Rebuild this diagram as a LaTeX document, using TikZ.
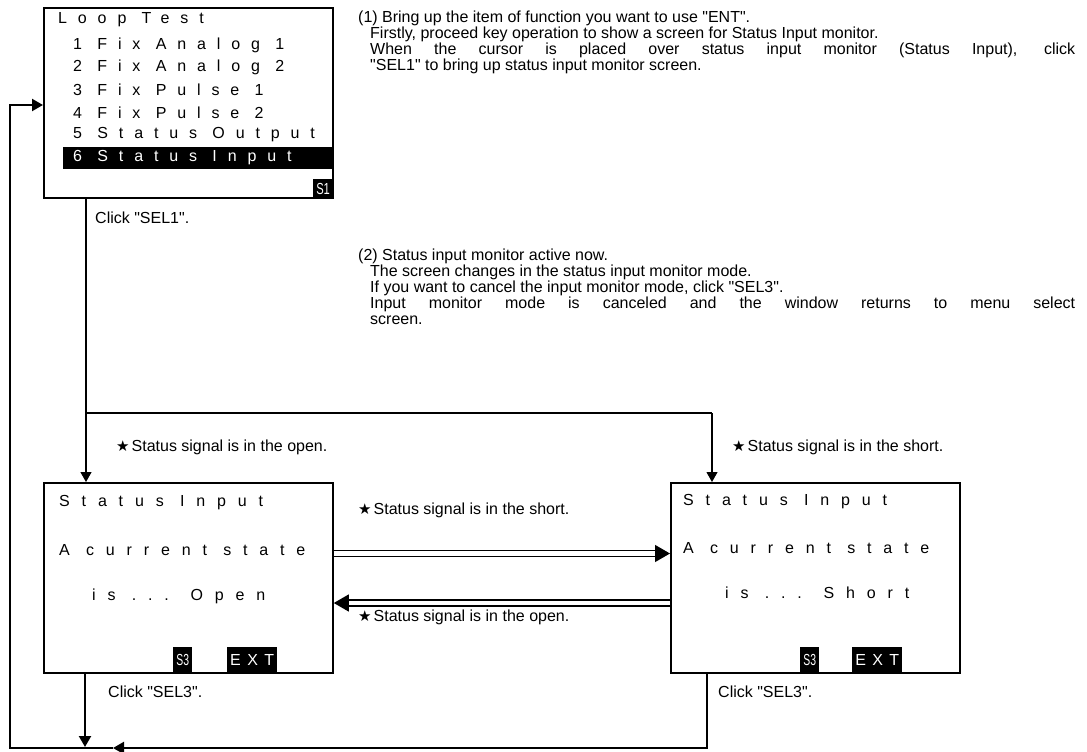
\documentclass[tikz,border=0pt]{standalone}
\usepackage{fontspec}
\setmainfont{Liberation Sans}
\newfontfamily\qfont{Liberation Sans}[Ligatures=TeXOff]
\newfontfamily\lcdfont[LetterSpace=68]{Liberation Sans}
\newfontfamily\lcdfontb[LetterSpace=74]{Liberation Sans}
\newfontfamily\extfont[LetterSpace=40]{Liberation Sans}
\newfontfamily\symfont{DejaVu Sans}
\usetikzlibrary{arrows.meta,calc}
\newcommand\bstar{{\symfont\fontsize{15}{15}\selectfont ★}\hspace{2pt}}
\newcommand\dq{{\qfont"}}
\begin{document}
\begin{tikzpicture}[x=1pt,y=-1pt,
  scr/.style={draw, line width=1.8pt, minimum width=289pt, minimum height=190pt, anchor=north west, inner sep=0pt},
  lcd/.style={anchor=west, inner sep=0pt, font=\lcdfont\fontsize{16}{16}\selectfont},
  lcdb/.style={anchor=west, inner sep=0pt, font=\lcdfontb\fontsize{16}{16}\selectfont},
  desc/.style={anchor=north west, inner sep=0pt, align=left, font=\fontsize{16}{16}\selectfont},
  lbl/.style={anchor=west, inner sep=0pt, font=\fontsize{16}{18}\selectfont},
  tag/.style={fill=black, text=white, inner sep=0pt, anchor=north west},
  thinln/.style={line width=1.1pt},
  thickln/.style={line width=2.2pt},
  arr/.style={-{Triangle[length=10pt,width=11pt]}},
  arrB/.style={-{Triangle[length=11pt,width=12pt]}},
  dbl/.style={double, double distance=4.5pt, line width=1.3pt, -{Triangle[length=15pt,width=17pt]}}
]
\useasboundingbox (0,0) rectangle (1087,752);

% screens
\node[scr] (menu) at (43,7) {};
\node[scr] (open) at (43,482) {};
\node[scr] (short) at (670,482) {};

% menu screen content
\node[tag, minimum width=269pt, minimum height=22pt] (hl) at (63,147) {};
\node[lcd] (m0) at (58,20) {Loop Test};
\node[lcd] (m1) at (73,45) {1 Fix Analog 1};
\node[lcd] (m2) at (73,67.5) {2 Fix Analog 2};
\node[lcd] (m3) at (73,90) {3 Fix Pulse 1};
\node[lcd] (m4) at (73,112.5) {4 Fix Pulse 2};
\node[lcd] (m5) at (73,135) {5 Status Output};
\node[lcd, text=white] (m6) at (73,158) {6 Status Input};
\node[tag, anchor=south east, minimum width=21pt, minimum height=20pt] (s1) at (menu.south east) {\scalebox{0.7}[1]{\fontsize{16}{16}\selectfont S1}};

% open screen content
\node[lcdb] (o1) at (59,503) {Status Input};
\node[lcdb] (o2) at (59,550) {A current state};
\node[lcdb] (o3) at (92,596) {is ... Open};
\node[tag, minimum width=19pt, minimum height=25pt] (os3) at (173,647) {\scalebox{0.65}[1]{\fontsize{16}{16}\selectfont S3}};
\node[tag, minimum width=50pt, minimum height=25pt] (oext) at (227,647) {\extfont\fontsize{16}{16}\selectfont EXT};

% short screen content
\node[lcdb] (r1) at (683,502) {Status Input};
\node[lcdb] (r2) at (683,548) {A current state};
\node[lcdb] (r3) at (725,593) {is ... Short};
\node[tag, minimum width=19pt, minimum height=25pt] (rs3) at (800,647) {\scalebox{0.65}[1]{\fontsize{16}{16}\selectfont S3}};
\node[tag, minimum width=50pt, minimum height=25pt] (rext) at (852,647) {\extfont\fontsize{16}{16}\selectfont EXT};

% explanations
\node[desc] (t1) at (358,11) {(1) Bring up the item of function you want to use \dq ENT\dq.\\
\hspace*{12pt}Firstly, proceed key operation to show a screen for Status Input monitor.\\
\hspace*{12pt}\makebox[705pt][s]{When the cursor is placed over status input monitor (Status Input), click}\\
\hspace*{12pt}\dq SEL1\dq\ to bring up status input monitor screen.};
\node[desc] (t2) at (358,249) {(2) Status input monitor active now.\\
\hspace*{12pt}The screen changes in the status input monitor mode.\\
\hspace*{12pt}If you want to cancel the input monitor mode, click \dq SEL3\dq.\\
\hspace*{12pt}\makebox[705pt][s]{Input monitor mode is canceled and the window returns to menu select}\\
\hspace*{12pt}screen.};

% labels
\node[lbl] (c1) at (95,218) {Click \dq SEL1\dq.};
\node[lbl] (c2) at (108,692) {Click \dq SEL3\dq.};
\node[lbl] (c3) at (718,692) {Click \dq SEL3\dq.};
\node[lbl] (sa) at (116,447) {\bstar Status signal is in the open.};
\node[lbl] (sb) at (732,447) {\bstar Status signal is in the short.};
\node[lbl] (sc) at (358,510) {\bstar Status signal is in the short.};
\node[lbl] (sd) at (358,617) {\bstar Status signal is in the open.};

% connectors from menu
\coordinate (j1) at (86,413);
\coordinate (j2) at (712,413);
\draw[thinln] (menu.south -| j1) -- (j1) -- (j2);
\draw[thinln, arr] (j1) -- (j1 |- open.north);
\draw[thinln, arr] (j2) -- (j2 |- short.north);

% double arrows between screens
\coordinate (ya) at (0,553.5);
\coordinate (yb) at (0,603);
\draw[dbl] (open.east |- ya) -- (short.west |- ya);
\draw[dbl] (short.west |- yb) -- (open.east |- yb);

% return loop
\coordinate (br) at (707,748);
\coordinate (bm) at (113,748);
\coordinate (bl) at (10,748);
\coordinate (tl) at (10,105);
\coordinate (bj) at (85,747);
\draw[thickln, arrB] (short.south -| br) -- (br) -- (bm);
\draw[thickln, arrB] (bm) -- (bl) -- (tl) -- (menu.west |- tl);
\draw[thickln, arrB] (open.south -| bj) -- (bj);
\end{tikzpicture}
\end{document}
